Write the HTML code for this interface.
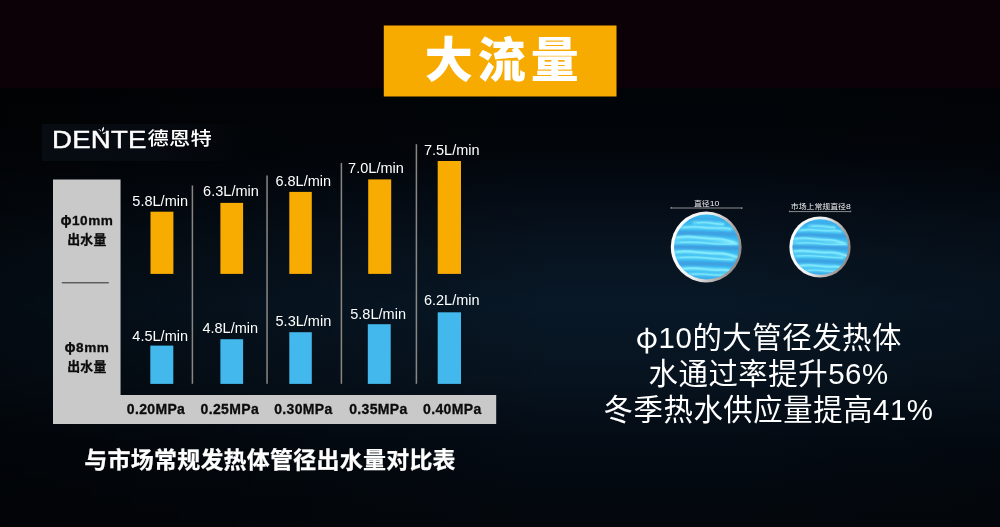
<!DOCTYPE html>
<html lang="zh-CN">
<head>
<meta charset="utf-8">
<title>大流量</title>
<style>
*{margin:0;padding:0;box-sizing:border-box}
html,body{width:1000px;height:527px;overflow:hidden;background:#04070b}
body{position:relative;font-family:"Liberation Sans","Noto Sans CJK SC",sans-serif;color:#fff}
.abs{position:absolute}
#bg{left:0;top:0;width:1000px;height:527px;
 background:
  linear-gradient(90deg, rgba(0,0,0,.52) 0px, rgba(0,0,0,.28) 250px, rgba(0,0,0,0) 560px, rgba(0,0,0,0) 700px, rgba(0,0,0,.2) 1000px),
  linear-gradient(180deg, #010407 88px, #02060b 150px, #050c16 200px, #07131f 248px, #081827 305px, #07131f 380px, #040b14 440px, #03070c 527px);}
#title{left:383.8px;top:25.6px;width:232.5px;height:70.9px}
#title span{position:absolute;left:0;top:0;width:100%;height:100%;text-align:center;font-family:"Liberation Sans","Noto Sans CJK SC",sans-serif;font-weight:900;font-size:48px;line-height:66px;letter-spacing:5px;text-indent:8.6px;padding-top:2.3px;white-space:nowrap}
#logobox{left:41.5px;top:124.2px;width:210px;height:36.5px;background:linear-gradient(90deg,rgba(9,14,22,.8) 0%,rgba(9,14,22,.65) 55%,rgba(9,14,22,0) 100%)}
#logo-en{left:51.6px;top:126.6px;font-size:24.2px;line-height:26px;font-weight:400;letter-spacing:.2px;white-space:nowrap;transform-origin:0 0;transform:scaleX(1.14);-webkit-text-stroke:.45px #fff}
#logo-cn{left:147.6px;top:123.6px;font-size:21.3px;line-height:30px;font-weight:500;letter-spacing:.2px;white-space:nowrap;transform-origin:0 50%;transform:scaleY(.87);font-family:"Liberation Sans","Noto Sans CJK SC",sans-serif}
.val{font-size:14.5px;line-height:16px;letter-spacing:.02px;white-space:nowrap;text-align:center;width:80px;color:#fff}
.mpa{font-size:14px;line-height:16px;letter-spacing:.35px;font-weight:700;white-space:nowrap;text-align:center;width:80px;color:#0c0c0c;-webkit-text-stroke:.3px #0c0c0c}
.side{font-size:13px;line-height:17px;letter-spacing:.5px;font-weight:700;white-space:nowrap;text-align:center;width:67px;color:#0c0c0c;-webkit-text-stroke:.3px #0c0c0c}
#caption{left:84.3px;top:443.6px;font-size:23px;line-height:32px;font-weight:700;white-space:nowrap;letter-spacing:.22px;-webkit-text-stroke:.25px #fff}
#rtext{left:568.6px;top:320.4px;width:400px;text-align:center;font-size:29.4px;line-height:35.6px;font-weight:400;white-space:nowrap;letter-spacing:.55px;text-indent:.55px}
.sa{font-size:13.6px}
.sb{font-size:12.9px;letter-spacing:.2px}
.phi{font-family:"Noto Sans CJK SC","Liberation Sans",sans-serif;line-height:0}
.dim{font-size:7.9px;line-height:9px;white-space:nowrap;text-align:center;color:#efefef;transform:scaleY(.92);transform-origin:50% 100%}
.dim b{font-weight:400;font-size:8.7px;line-height:0}
</style>
</head>
<body>
<div id="bg" class="abs"></div>
<svg class="abs" style="left:0;top:0" width="1000" height="527" viewBox="0 0 1000 527">
 <rect x="0" y="0" width="1000" height="87.8" fill="#0d0108"/>
 <rect x="383.8" y="25.5" width="232.7" height="71" fill="#f7ab00"/>
 <path fill="#c9c9c9" d="M53 179.4H120.55V394.9H496.2V424H53Z"/>
 <rect x="150.5" y="211.7" width="22.9" height="62.2" fill="#f8ab00"/>
 <rect x="220.4" y="202.9" width="22.7" height="71" fill="#f8ab00"/>
 <rect x="289.3" y="191.9" width="22.5" height="82" fill="#f8ab00"/>
 <rect x="368.2" y="179.4" width="23" height="94.5" fill="#f8ab00"/>
 <rect x="437.7" y="161" width="23.3" height="112.9" fill="#f8ab00"/>
 <rect x="150.3" y="345.6" width="23" height="38.3" fill="#43b8ec"/>
 <rect x="220.4" y="339.2" width="22.7" height="44.7" fill="#43b8ec"/>
 <rect x="289.3" y="332.2" width="22.5" height="51.7" fill="#43b8ec"/>
 <rect x="367.8" y="324.2" width="22.9" height="59.7" fill="#43b8ec"/>
 <rect x="437.7" y="312.3" width="23.3" height="71.6" fill="#43b8ec"/>
 <rect x="191.65" y="185.5" width="1.5" height="198.3" fill="#8a8783"/>
 <rect x="266.3" y="175.5" width="1.5" height="208.3" fill="#8a8783"/>
 <rect x="340.65" y="163" width="1.5" height="220.8" fill="#8a8783"/>
 <rect x="415.65" y="144.2" width="1.5" height="239.6" fill="#8a8783"/>
 <rect x="61.8" y="282.1" width="47" height="1.3" fill="#505050"/>
</svg>
<div id="title" class="abs"><span>大流量</span></div>

<div id="logobox" class="abs"></div>
<div id="logo-en" class="abs">DENTE</div>
<svg class="abs" style="left:95px;top:125px" width="14" height="11" viewBox="95 125 14 11"><g fill="#fff"><path d="M100.5 131.600c-.6-1.3-1.5-2.2-2.7-2.7 1.5-.1 2.7.7 3.4 2.100z"/><path d="M102 131.300c-.4-1.6.2-3.1 1.9-4.5.4 1.7-.1 3.2-1.2 4.700z"/><path d="M102.6 133.300c1.1-.9 2.3-1.2 3.6-.9-.9.9-2 1.4-3.3 1.500z"/></g></svg>
<div id="logo-cn" class="abs">德恩特</div>

<!-- chart -->
<div class="abs side sa" style="left:53.4px;top:211.6px"><span class="phi">φ</span>10mm</div>
<div class="abs side sb" style="left:53.4px;top:230.6px">出水量</div>
<div class="abs side sa" style="left:53.4px;top:338.6px"><span class="phi">φ</span>8mm</div>
<div class="abs side sb" style="left:53.4px;top:357.6px">出水量</div>

<div class="abs val" style="left:120.2px;top:192.5px">5.8L/min</div>
<div class="abs val" style="left:191px;top:183.3px">6.3L/min</div>
<div class="abs val" style="left:263.3px;top:172.7px">6.8L/min</div>
<div class="abs val" style="left:336px;top:160.4px">7.0L/min</div>
<div class="abs val" style="left:411.8px;top:141.7px">7.5L/min</div>

<div class="abs val" style="left:120.2px;top:327.5px">4.5L/min</div>
<div class="abs val" style="left:190.3px;top:320.2px">4.8L/min</div>
<div class="abs val" style="left:263.4px;top:312.9px">5.3L/min</div>
<div class="abs val" style="left:338.1px;top:305.5px">5.8L/min</div>
<div class="abs val" style="left:411.8px;top:291.7px">6.2L/min</div>

<div class="abs mpa" style="left:116px;top:401px">0.20MPa</div>
<div class="abs mpa" style="left:189.8px;top:401px">0.25MPa</div>
<div class="abs mpa" style="left:263.4px;top:401px">0.30MPa</div>
<div class="abs mpa" style="left:338.4px;top:401px">0.35MPa</div>
<div class="abs mpa" style="left:412.3px;top:401px">0.40MPa</div>

<div id="caption" class="abs">与市场常规发热体管径出水量对比表</div>

<!-- circles -->
<svg class="abs" style="left:650px;top:190px" width="220" height="100" viewBox="650 190 220 100">
 <defs>
  <linearGradient id="ring" x1="0" y1=".35" x2="1" y2=".65">
   <stop offset="0" stop-color="#ffffff"/><stop offset=".45" stop-color="#ededed"/><stop offset=".8" stop-color="#a8a2a0"/><stop offset="1" stop-color="#8c8481"/>
  </linearGradient>
  <filter id="soft" x="-10%" y="-10%" width="120%" height="120%"><feGaussianBlur stdDeviation="1.6"/></filter>
  <filter id="soft3" x="-10%" y="-10%" width="120%" height="120%"><feGaussianBlur stdDeviation="0.9"/></filter>
  <filter id="soft2" x="-10%" y="-10%" width="120%" height="120%"><feGaussianBlur stdDeviation="1.5"/></filter>
  <clipPath id="cc"><circle cx="50" cy="50" r="50"/></clipPath>
  <g id="water" clip-path="url(#cc)">
   <rect x="-2" y="-2" width="104" height="104" fill="#37b8f0"/>
   <g filter="url(#soft)" fill="none" stroke-linecap="round">
    <path d="M-5 28 C25 28 55 29 105 31" stroke="#409fe1" stroke-width="6"/>
    <path d="M-5 50 C25 50 55 51 105 52" stroke="#3f9cdf" stroke-width="6.5"/>
    <path d="M-5 75 C25 75 55 76 105 77" stroke="#409fe1" stroke-width="6"/>
    <path d="M-5 7 C25 6 55 8 105 8" stroke="#3fa6e6" stroke-width="4"/>
    <path d="M-5 97 C25 96 55 97 105 98" stroke="#3fa6e6" stroke-width="3"/>
   </g>
   <g filter="url(#soft2)" fill="none" stroke-linecap="round" stroke="#88f1ff">
    <path d="M30 12.5 C44 11 58 13 76 15" stroke-width="4" opacity=".75"/>
    <path d="M10 20 C32 17.5 55 21 88 22" stroke-width="4.2" opacity=".8"/>
    <path d="M3 36 C24 32.5 44 36.5 62 37.5 S82 41 94 43" stroke-width="4.6" opacity=".9"/>
    <path d="M1 43 C24 41.5 50 44.5 99 45" stroke-width="3.6" opacity=".75"/>
    <path d="M1 58 C20 56 44 59 64 59.5 S90 64 99 66" stroke-width="4.6" opacity=".9"/>
    <path d="M3 66.5 C26 65 50 67 92 69.5" stroke-width="3.8" opacity=".75"/>
    <path d="M10 84 C32 81.5 54 85 70 85 S84 87 92 88" stroke-width="4.6" opacity=".9"/>
    <path d="M22 92 C40 91 56 93 80 93" stroke-width="3.4" opacity=".75"/>
   </g>
   <g filter="url(#soft3)" fill="none" stroke-linecap="round" stroke="#9cf5ff" opacity=".5">
    <path d="M36 13 Q46 11 56 13 T76 15" stroke-width="2.2"/>
    <path d="M16 20 Q30 17.5 44 19.5 T70 20.5 T86 22.5" stroke-width="2.2"/>
    <path d="M6 35 Q20 32 34 35 T62 37 T92 43" stroke-width="2.5"/>
    <path d="M10 43 Q30 41 50 44 T96 45" stroke-width="2.1"/>
    <path d="M4 57.5 Q20 55 36 58 T66 60 T97 66" stroke-width="2.5"/>
    <path d="M10 66 Q30 64.5 50 67 T90 69.5" stroke-width="2.1"/>
    <path d="M14 83.5 Q30 81 46 84 T72 85.5 T90 88" stroke-width="2.5"/>
    <path d="M28 92 Q40 90.5 54 92.5 T78 93" stroke-width="2.0"/>
   </g>
  </g>
 </defs>
 <circle cx="706.2" cy="247" r="35.4" fill="url(#ring)"/>
 <use href="#water" transform="translate(674.2 214.6) scale(.648)"/>
 <circle cx="820" cy="247" r="30.6" fill="url(#ring)"/>
 <use href="#water" transform="translate(792.5 219.2) scale(.556)"/>
 <path d="M670.4 208H742.6M670.8 208.8l.7-1.800M742.200 207.2l-.7 1.800" stroke="#8e8e8e" stroke-width="1.1" fill="none"/>
 <path d="M789.2 211.6H851M789.5 210.6v1.6M850.7 210.6v1.6" stroke="#8c8c8c" stroke-width="1" fill="none"/>
</svg>
<div class="abs dim" style="left:676.7px;top:199.3px;width:60px">直径<b>10</b></div>
<div class="abs dim" style="left:780.8px;top:202.2px;width:80px">市场上常规直径<b>8</b></div>

<div id="rtext" class="abs"><span class="phi">φ</span>10的大管径发热体<br>水通过率提升56%<br>冬季热水供应量提高41%</div>
</body>
</html>
